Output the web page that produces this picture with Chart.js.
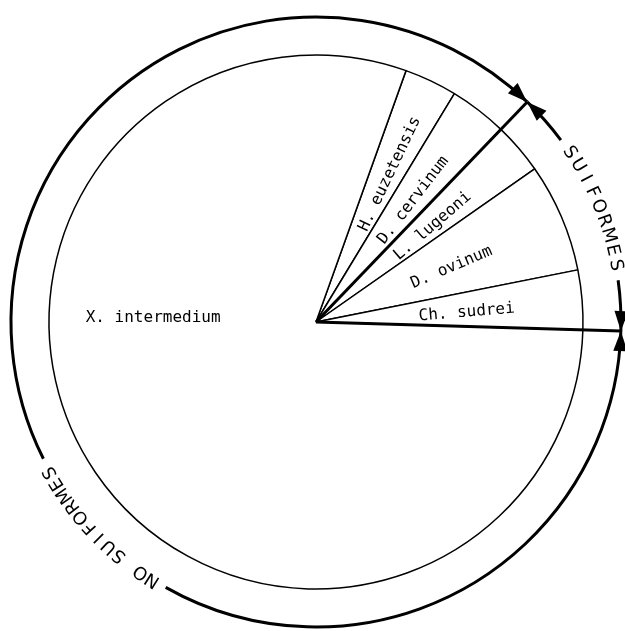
<!DOCTYPE html>
<html>
<head>
<meta charset="utf-8">
<script src="https://cdn.jsdelivr.net/npm/chart.js@4.4.1/dist/chart.umd.min.js"></script>
<style>
  html, body { margin: 0; padding: 0; background: #fff; }
  #wrap { width: 625px; height: 631px; }
</style>
</head>
<body>
<div id="wrap"><canvas id="myChart"></canvas></div>
<script>
// slices, clockwise from the top
const species = ['H. euzetensis', 'D. cervinum', 'L. lugeoni', 'D. ovinum', 'Ch. sudrei', 'X. intermedium'];
const shares = [3.2, 3.5, 3.1, 6.6, 3.6, 80];
const hostGroup = ['NO SUIFORMES', 'NO SUIFORMES', 'SUIFORMES', 'SUIFORMES', 'SUIFORMES', 'NO SUIFORMES'];

const ink = '#000';

// draws species names, the outer host ring with arrows and the two thick dividers
const decorations = {
  id: 'decorations',
  afterDatasetsDraw(chart) {
    const ctx = chart.ctx;
    const arcs = chart.getDatasetMeta(0).data;
    const cx = arcs[0].x, cy = arcs[0].y, r = arcs[0].outerRadius;
    const ringR = r + 38;

    ctx.save();
    ctx.fillStyle = ink;
    ctx.strokeStyle = ink;

    // species labels
    ctx.font = '16px "DejaVu Sans Mono"';
    arcs.forEach((arc, i) => {
      const span = arc.endAngle - arc.startAngle;
      if (span > Math.PI) {
        ctx.textAlign = 'center';
        ctx.textBaseline = 'middle';
        ctx.fillText(species[i], cx - r * 0.61, cy - 4);
        return;
      }
      const mid = (arc.startAngle + arc.endAngle) / 2;
      ctx.save();
      ctx.translate(cx, cy);
      ctx.rotate(mid);
      ctx.textAlign = 'left';
      ctx.textBaseline = 'middle';
      ctx.fillText(species[i], r * 0.385, 3);
      ctx.restore();
    });

    // find where the host group changes
    const groups = [];
    arcs.forEach((arc, i) => {
      const last = groups[groups.length - 1];
      if (last && last.name === hostGroup[i]) {
        last.end = arc.endAngle;
      } else {
        groups.push({ name: hostGroup[i], start: arc.startAngle, end: arc.endAngle });
      }
    });
    // merge wrap-around group
    if (groups.length > 2 && groups[0].name === groups[groups.length - 1].name) {
      const tail = groups.pop();
      groups[0].start = tail.start - 2 * Math.PI;
    }

    const textStyle = {
      'SUIFORMES': { step: 15.3, at: null },
      'NO SUIFORMES': { step: 13.6, at: 0.758 * Math.PI }
    };

    ctx.lineWidth = 3;
    ctx.lineCap = 'butt';
    groups.forEach(g => {
      const st = textStyle[g.name];
      let mid = st.at !== null ? st.at : (g.start + g.end) / 2;
      while (mid < g.start) mid += 2 * Math.PI;
      while (mid > g.end) mid -= 2 * Math.PI;
      const step = st.step / ringR;
      const n = g.name.length;
      const half = (n - 1) / 2 * step + 0.05;

      ctx.beginPath();
      ctx.arc(cx, cy, ringR, g.start, mid - half);
      ctx.stroke();
      ctx.beginPath();
      ctx.arc(cx, cy, ringR, mid + half, g.end);
      ctx.stroke();

      ctx.font = '18px "DejaVu Sans"';
      ctx.textAlign = 'center';
      ctx.textBaseline = 'middle';
      for (let k = 0; k < n; k++) {
        const a = mid - (n - 1) / 2 * step + k * step;
        ctx.save();
        ctx.translate(cx + ringR * Math.cos(a), cy + ringR * Math.sin(a));
        ctx.rotate(a + Math.PI / 2);
        ctx.fillText(g.name[k], 0, 0);
        ctx.restore();
      }
    });

    // boundaries: thick radius and two arrowheads meeting on the ring
    groups.forEach(g => {
      const b = g.start;
      const px = cx + ringR * Math.cos(b), py = cy + ringR * Math.sin(b);
      ctx.lineWidth = 3;
      ctx.beginPath();
      ctx.moveTo(cx, cy);
      ctx.lineTo(px, py);
      ctx.stroke();

      const tx = -Math.sin(b), ty = Math.cos(b);
      const nx = Math.cos(b), ny = Math.sin(b);
      const L = 20, w = 7;
      [-1, 1].forEach(s => {
        const bx = px + s * L * tx, by = py + s * L * ty;
        ctx.beginPath();
        ctx.moveTo(px, py);
        ctx.lineTo(bx + w * nx, by + w * ny);
        ctx.lineTo(bx - w * nx, by - w * ny);
        ctx.closePath();
        ctx.fill();
      });
    });

    ctx.restore();
  }
};

const ctx = document.getElementById('myChart').getContext('2d');
new Chart(ctx, {
  type: 'pie',
  data: {
    labels: species,
    datasets: [{
      data: shares,
      backgroundColor: '#fff',
      borderColor: ink,
      borderWidth: 1.5
    }]
  },
  options: {
    responsive: true,
    maintainAspectRatio: false,
    animation: false,
    rotation: 19.7,
    radius: 267,
    layout: { padding: { left: 27, right: 20, top: 23, bottom: 10 } },
    plugins: {
      legend: { display: false },
      tooltip: { enabled: false }
    }
  },
  plugins: [decorations]
});
</script>
</body>
</html>
